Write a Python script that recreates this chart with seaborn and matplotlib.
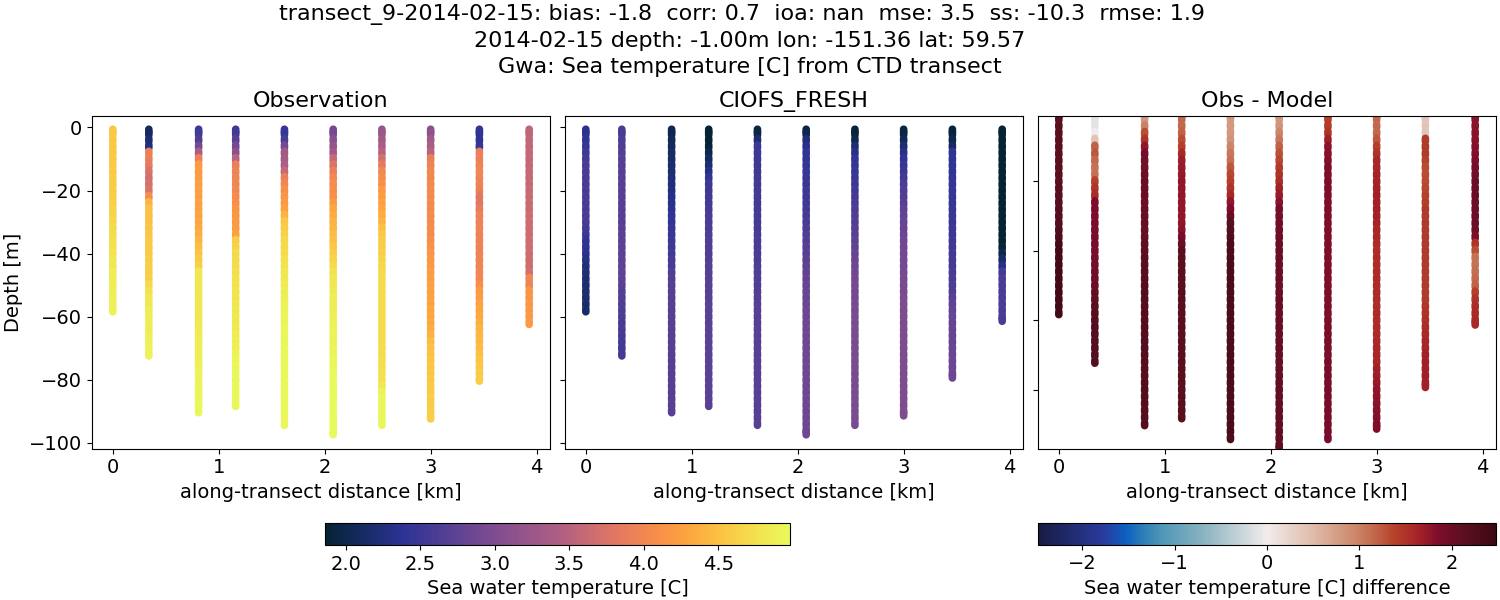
"""Sea temperature transect: observation, model and difference panels."""
import matplotlib
matplotlib.use("Agg")
import matplotlib.pyplot as plt
import numpy as np
import pandas as pd
import seaborn as sns
from matplotlib.cm import ScalarMappable
from matplotlib.colors import LinearSegmentedColormap, Normalize
from matplotlib.path import Path

DISTANCE_KM = [0.0, 0.34, 0.81, 1.16, 1.62, 2.08, 2.54, 3.0, 3.46, 3.93]

# sampled depths of a cast (m); the last sample of each cast is replaced by its bottom
DEPTH_GRID = [1, 2, 4, 6, 8, 10, 12, 14, 16, 18, 20, 22, 24, 26, 28, 30, 32, 34, 36, 38,
              40, 42, 44, 46, 48, 50, 52, 54, 56, 58, 60, 62, 64, 66, 68, 70, 72, 74, 76, 78,
              80, 82, 84, 86, 88, 90, 92, 94, 96]
OBS_BOTTOM = [58, 72, 90, 88, 94, 97, 94, 92, 80, 62]
MODEL_BOTTOM = [58, 72, 90, 88, 94, 97, 94, 91, 79, 61]

OBS_TEMP = [
    [4.55, 4.55, 4.55, 4.55, 4.55, 4.56, 4.56, 4.57, 4.58, 4.58, 4.6, 4.6, 4.62, 4.64, 4.66,
     4.68, 4.7, 4.72, 4.74, 4.76, 4.78, 4.8, 4.82, 4.85, 4.86, 4.87, 4.88, 4.88, 4.89, 4.9],
    [2.1, 2.1, 2.2, 2.25, 3.9, 3.9, 3.85, 3.75, 3.7, 3.72, 3.75, 4.05, 4.4, 4.5, 4.5,
     4.5, 4.52, 4.54, 4.55, 4.56, 4.57, 4.58, 4.6, 4.6, 4.62, 4.7, 4.75, 4.8, 4.82, 4.84,
     4.85, 4.86, 4.87, 4.88, 4.89, 4.9, 4.9],
    [2.5, 2.55, 2.65, 2.9, 3.4, 3.9, 4.2, 4.22, 4.23, 4.24, 4.25, 4.26, 4.27, 4.28, 4.29,
     4.3, 4.33, 4.37, 4.42, 4.47, 4.52, 4.57, 4.62, 4.8, 4.8, 4.8, 4.8, 4.8, 4.81, 4.81,
     4.82, 4.82, 4.83, 4.84, 4.85, 4.86, 4.87, 4.88, 4.89, 4.9, 4.9, 4.91, 4.92, 4.93, 4.94, 4.95],
    [2.5, 2.55, 2.7, 2.9, 3.1, 3.5, 3.9, 3.95, 3.97, 3.98, 4.0, 4.05, 4.1, 4.14, 4.17,
     4.2, 4.22, 4.25, 4.6, 4.65, 4.7, 4.71, 4.72, 4.73, 4.75, 4.76, 4.77, 4.78, 4.79, 4.8,
     4.81, 4.82, 4.83, 4.84, 4.86, 4.88, 4.9, 4.92, 4.94, 4.95, 4.95, 4.95, 4.95, 4.95, 4.95],
    [2.45, 2.45, 2.6, 2.9, 3.3, 3.35, 3.4, 3.6, 3.9, 4.0, 4.1, 4.15, 4.2, 4.25, 4.4,
     4.55, 4.6, 4.65, 4.68, 4.7, 4.72, 4.75, 4.78, 4.8, 4.82, 4.84, 4.86, 4.88, 4.9, 4.91,
     4.92, 4.93, 4.94, 4.94, 4.95, 4.95, 4.95, 4.95, 4.95, 4.95, 4.95, 4.95, 4.95, 4.95, 4.95,
     4.95, 4.95, 4.95],
    [2.9, 2.9, 3.1, 3.2, 3.3, 3.6, 3.75, 3.9, 4.0, 4.05, 4.07, 4.1, 4.2, 4.3, 4.35,
     4.4, 4.43, 4.47, 4.5, 4.55, 4.6, 4.65, 4.7, 4.75, 4.8, 4.81, 4.83, 4.85, 4.86, 4.87,
     4.88, 4.89, 4.9, 4.9, 4.91, 4.92, 4.93, 4.94, 4.95, 4.96, 4.97, 4.97, 4.97, 4.97, 4.97,
     4.97, 4.97, 4.97, 4.97, 4.97],
    [3.2, 3.25, 3.3, 3.4, 3.5, 3.7, 3.85, 4.0, 4.05, 4.1, 4.2, 4.22, 4.25, 4.3, 4.35,
     4.4, 4.5, 4.55, 4.58, 4.6, 4.62, 4.65, 4.67, 4.68, 4.7, 4.7, 4.7, 4.7, 4.7, 4.7,
     4.7, 4.71, 4.71, 4.71, 4.72, 4.72, 4.72, 4.73, 4.74, 4.75, 4.75, 4.8, 4.9, 4.95, 4.95,
     4.95, 4.95, 4.95],
    [3.1, 3.15, 3.3, 3.4, 3.5, 3.9, 3.95, 4.0, 4.01, 4.02, 4.03, 4.03, 4.04, 4.04, 4.05,
     4.05, 4.06, 4.07, 4.1, 4.12, 4.15, 4.17, 4.19, 4.21, 4.23, 4.25, 4.26, 4.27, 4.28, 4.29,
     4.3, 4.32, 4.35, 4.4, 4.45, 4.5, 4.51, 4.52, 4.53, 4.54, 4.55, 4.56, 4.57, 4.58, 4.59,
     4.6, 4.6],
    [2.4, 2.4, 2.4, 2.45, 3.9, 3.92, 3.95, 4.0, 3.98, 3.95, 3.9, 3.8, 3.82, 3.85, 3.95,
     3.95, 3.95, 3.95, 3.95, 3.95, 3.96, 3.97, 3.98, 3.99, 4.0, 4.1, 4.2, 4.23, 4.27, 4.3,
     4.33, 4.37, 4.4, 4.42, 4.44, 4.46, 4.5, 4.52, 4.55, 4.58, 4.6],
    [3.55, 3.55, 3.56, 3.57, 3.58, 3.58, 3.59, 3.6, 3.6, 3.6, 3.62, 3.62, 3.63, 3.63, 3.64,
     3.65, 3.65, 3.65, 3.65, 3.65, 3.65, 3.65, 3.65, 3.7, 4.0, 3.95, 4.15, 4.15, 4.17, 4.18,
     4.19, 4.2],
]

MODEL_TEMP = [
    [2.35, 2.35, 2.4, 2.45, 2.5, 2.55, 2.58, 2.6, 2.6, 2.6, 2.6, 2.6, 2.6, 2.6, 2.58,
     2.58, 2.55, 2.5, 2.4, 2.38, 2.35, 2.3, 2.25, 2.22, 2.2, 2.2, 2.18, 2.17, 2.16, 2.15],
    [2.6, 2.6, 2.62, 2.64, 2.66, 2.68, 2.7, 2.7, 2.7, 2.7, 2.7, 2.7, 2.7, 2.7, 2.7,
     2.7, 2.72, 2.72, 2.72, 2.73, 2.73, 2.74, 2.74, 2.75, 2.75, 2.72, 2.7, 2.67, 2.65, 2.63,
     2.62, 2.6, 2.58, 2.57, 2.56, 2.55, 2.55],
    [2.0, 2.0, 2.05, 2.1, 2.12, 2.14, 2.16, 2.2, 2.22, 2.25, 2.27, 2.3, 2.33, 2.36, 2.4,
     2.42, 2.44, 2.47, 2.5, 2.52, 2.55, 2.57, 2.6, 2.63, 2.65, 2.67, 2.68, 2.69, 2.7, 2.7,
     2.7, 2.7, 2.7, 2.7, 2.7, 2.7, 2.7, 2.7, 2.7, 2.7, 2.7, 2.7, 2.7, 2.7, 2.7, 2.7],
    [1.87, 1.87, 1.87, 1.87, 2.0, 2.1, 2.2, 2.3, 2.4, 2.5, 2.52, 2.54, 2.55, 2.57, 2.58,
     2.6, 2.61, 2.62, 2.63, 2.64, 2.65, 2.66, 2.68, 2.69, 2.7, 2.7, 2.7, 2.7, 2.71, 2.71,
     2.71, 2.72, 2.72, 2.72, 2.72, 2.72, 2.72, 2.72, 2.72, 2.72, 2.72, 2.72, 2.72, 2.72, 2.72],
    [1.95, 1.95, 2.2, 2.5, 2.5, 2.51, 2.52, 2.53, 2.54, 2.54, 2.55, 2.55, 2.55, 2.56, 2.56,
     2.57, 2.57, 2.58, 2.58, 2.59, 2.6, 2.61, 2.62, 2.63, 2.64, 2.65, 2.66, 2.67, 2.68, 2.69,
     2.7, 2.7, 2.7, 2.7, 2.7, 2.7, 2.7, 2.7, 2.7, 2.7, 2.7, 2.7, 2.7, 2.7, 2.7,
     2.7, 2.7, 2.7],
    [1.95, 2.0, 2.25, 2.32, 2.4, 2.42, 2.44, 2.46, 2.48, 2.49, 2.5, 2.51, 2.52, 2.54, 2.57,
     2.6, 2.62, 2.64, 2.66, 2.68, 2.7, 2.72, 2.74, 2.76, 2.78, 2.8, 2.81, 2.82, 2.83, 2.84,
     2.85, 2.85, 2.85, 2.85, 2.85, 2.85, 2.85, 2.85, 2.85, 2.85, 2.85, 2.85, 2.85, 2.85, 2.85,
     2.85, 2.85, 2.85, 2.85, 2.85],
    [1.9, 1.9, 2.0, 2.2, 2.3, 2.4, 2.43, 2.46, 2.49, 2.52, 2.55, 2.57, 2.6, 2.62, 2.64,
     2.66, 2.68, 2.7, 2.73, 2.76, 2.79, 2.82, 2.85, 2.87, 2.89, 2.9, 2.91, 2.92, 2.93, 2.94,
     2.95, 2.95, 2.95, 2.95, 2.95, 2.95, 2.95, 2.95, 2.95, 2.95, 2.95, 2.95, 2.95, 2.95, 2.95,
     2.95, 2.95, 2.95],
    [1.95, 1.95, 2.05, 2.2, 2.3, 2.4, 2.45, 2.5, 2.55, 2.6, 2.63, 2.66, 2.7, 2.74, 2.78,
     2.8, 2.82, 2.84, 2.86, 2.88, 2.9, 2.91, 2.92, 2.93, 2.94, 2.95, 2.96, 2.97, 2.98, 2.99,
     3.0, 3.0, 3.0, 3.0, 3.0, 3.0, 3.0, 3.0, 3.0, 3.0, 3.0, 3.0, 3.0, 3.0, 3.0,
     3.0, 3.0],
    [1.9, 1.9, 2.0, 2.1, 2.4, 2.4, 2.41, 2.42, 2.43, 2.44, 2.45, 2.46, 2.46, 2.47, 2.48,
     2.49, 2.5, 2.51, 2.52, 2.53, 2.55, 2.56, 2.57, 2.58, 2.6, 2.62, 2.65, 2.7, 2.74, 2.78,
     2.8, 2.81, 2.81, 2.82, 2.82, 2.83, 2.83, 2.84, 2.84, 2.85, 2.85],
    [1.87, 1.87, 1.87, 1.87, 1.87, 1.87, 1.87, 1.87, 1.87, 1.87, 1.87, 1.87, 1.87, 1.87, 1.87,
     1.87, 1.87, 1.87, 1.87, 1.9, 2.0, 2.15, 2.3, 2.55, 2.58, 2.6, 2.6, 2.6, 2.6, 2.6,
     2.6, 2.6],
]

DIFF_TEMP = [
    [2.15, 2.15, 2.15, 2.15, 2.15, 2.15, 2.15, 2.15, 2.15, 2.15, 2.15, 2.16, 2.17, 2.18, 2.19,
     2.2, 2.22, 2.25, 2.3, 2.35, 2.4, 2.4, 2.4, 2.4, 2.4, 2.4, 2.4, 2.4, 2.4, 2.4],
    [-0.1, -0.1, -0.1, 0.0, 0.4, 1.2, 1.25, 1.15, 1.1, 1.1, 1.4, 1.5, 1.55, 1.85, 1.85,
     1.85, 1.87, 1.88, 1.89, 1.9, 1.9, 1.92, 1.94, 1.95, 1.95, 2.0, 2.05, 2.1, 2.15, 2.18,
     2.2, 2.2, 2.2, 2.2, 2.2, 2.2, 2.2],
    [0.8, 0.8, 1.0, 1.3, 1.5, 1.75, 1.9, 1.95, 1.95, 2.0, 2.0, 2.0, 2.0, 2.0, 2.0,
     2.0, 2.02, 2.04, 2.06, 2.08, 2.1, 2.12, 2.14, 2.16, 2.18, 2.2, 2.2, 2.2, 2.2, 2.2,
     2.2, 2.2, 2.2, 2.2, 2.2, 2.2, 2.2, 2.2, 2.2, 2.2, 2.2, 2.2, 2.2, 2.2, 2.2, 2.2],
    [1.15, 1.15, 1.15, 1.2, 1.3, 1.4, 1.6, 1.7, 1.72, 1.74, 1.75, 1.75, 1.75, 1.75, 1.75,
     1.75, 1.75, 1.8, 1.9, 2.0, 2.15, 2.15, 2.15, 2.15, 2.15, 2.15, 2.15, 2.15, 2.15, 2.15,
     2.15, 2.15, 2.15, 2.15, 2.15, 2.15, 2.15, 2.15, 2.15, 2.15, 2.15, 2.15, 2.15, 2.15, 2.15],
    [0.8, 0.8, 0.8, 0.8, 0.85, 0.95, 1.05, 1.1, 1.25, 1.35, 1.4, 1.5, 1.6, 1.75, 1.85,
     2.0, 2.15, 2.2, 2.25, 2.28, 2.3, 2.3, 2.3, 2.3, 2.3, 2.3, 2.3, 2.3, 2.3, 2.3,
     2.3, 2.3, 2.3, 2.3, 2.3, 2.3, 2.3, 2.3, 2.3, 2.3, 2.3, 2.3, 2.3, 2.3, 2.3,
     2.3, 2.3, 2.3],
    [0.8, 0.8, 0.85, 0.95, 1.05, 1.2, 1.28, 1.35, 1.45, 1.5, 1.55, 1.65, 1.72, 1.8, 1.9,
     1.93, 1.95, 1.97, 1.98, 2.0, 2.0, 2.0, 2.0, 2.0, 2.0, 2.0, 2.0, 2.02, 2.02, 2.03,
     2.04, 2.04, 2.05, 2.05, 2.05, 2.06, 2.06, 2.07, 2.07, 2.08, 2.08, 2.08, 2.09, 2.09, 2.1,
     2.1, 2.1, 2.1, 2.1, 2.1],
    [1.4, 1.4, 1.45, 1.5, 1.65, 1.8, 1.82, 1.84, 1.85, 1.85, 1.85, 1.85, 1.85, 1.85, 1.85,
     1.85, 1.85, 1.85, 1.85, 1.85, 1.85, 1.85, 1.85, 1.85, 1.85, 1.85, 1.86, 1.86, 1.87, 1.87,
     1.87, 1.88, 1.88, 1.88, 1.89, 1.89, 1.9, 1.9, 1.9, 1.9, 1.9, 1.9, 1.9, 1.9, 1.9,
     1.9, 1.9, 1.9],
    [1.15, 1.15, 1.15, 1.15, 1.25, 1.4, 1.5, 1.6, 1.62, 1.63, 1.64, 1.65, 1.65, 1.65, 1.65,
     1.65, 1.63, 1.62, 1.6, 1.58, 1.56, 1.55, 1.55, 1.55, 1.55, 1.55, 1.55, 1.55, 1.55, 1.55,
     1.55, 1.56, 1.57, 1.58, 1.59, 1.6, 1.62, 1.65, 1.68, 1.72, 1.75, 1.78, 1.8, 1.82, 1.84,
     1.85, 1.85],
    [0.4, 0.4, 0.4, 0.4, 1.45, 1.45, 1.45, 1.38, 1.32, 1.3, 1.32, 1.35, 1.38, 1.4, 1.45,
     1.45, 1.45, 1.45, 1.45, 1.45, 1.45, 1.45, 1.45, 1.45, 1.45, 1.45, 1.45, 1.45, 1.48, 1.5,
     1.52, 1.55, 1.58, 1.6, 1.62, 1.65, 1.65, 1.65, 1.65, 1.65, 1.65],
    [1.8, 1.8, 1.8, 1.8, 1.8, 1.82, 1.84, 1.86, 1.9, 1.95, 2.0, 2.0, 2.0, 2.0, 2.0,
     2.0, 2.0, 2.0, 1.85, 1.5, 1.3, 1.1, 1.1, 1.12, 1.15, 1.2, 1.4, 1.5, 1.55, 1.58,
     1.6, 1.6],
]

THERMAL_STOPS = [(0.0, "#042333"), (1 / 6, "#2c3395"), (2 / 6, "#744992"), (0.51, "#b15f82"),
                 (0.635, "#e57a60"), (0.72, "#f98f48"), (0.79, "#fda83f"), (0.865, "#fbc845"),
                 (0.936, "#f2e44f"), (1.0, "#e8fa5b")]
BALANCE_STOPS = [(0.0, "#181c43"), (0.14, "#2a3a9c"), (0.19, "#0b5fc0"), (0.225, "#2a7cb8"),
                 (0.27, "#4f97b8"), (0.36, "#8ab3bf"), (0.5, "#f1eceb"), (0.6, "#e0bcab"),
                 (0.7, "#cb8365"), (0.78, "#b5422a"), (0.83, "#a62428"), (0.875, "#7e0d2c"),
                 (0.93, "#5c0f20"), (1.0, "#3c0912")]
TEMP_RANGE = (1.86, 4.98)
DIFF_RANGE = (-2.48, 2.48)


def stadium_marker(half_width=3.8, half_height=5.2):
    """Slightly tall round-ended marker, so that the 2 m samples join into a smooth bar."""
    theta = np.linspace(0, np.pi, 17)
    flat = half_height - half_width
    xs = half_width * np.cos(theta)
    ys = flat + half_width * np.sin(theta)
    verts = np.column_stack([np.r_[xs, -xs], np.r_[ys, -ys]])
    return Path(np.vstack([verts, verts[:1]]), closed=True)


def cast_table(values, bottoms):
    """Long table of one panel, one row per sample, shallow samples first."""
    rows = []
    for dist, vals, bottom in zip(DISTANCE_KM, values, bottoms):
        depths = DEPTH_GRID[: len(vals) - 1] + [bottom]
        for depth, val in zip(depths, vals):
            rows.append({"distance": dist, "depth": -depth, "value": val})
    return pd.DataFrame(rows)


def draw_panel(ax, df, cmap, norm, title):
    sns.scatterplot(data=df, x="distance", y="depth", hue="value", palette=cmap, hue_norm=norm,
                    marker=stadium_marker(), s=56, linewidth=0, legend=False, ax=ax)
    ax.set_title(title, fontsize=16)
    ax.set_xlabel("along-transect distance [km]", fontsize=14)
    ax.set_ylabel("")
    ax.set_xticks([0, 1, 2, 3, 4])
    ax.tick_params(labelsize=14)


sns.set_style("ticks", {"axes.edgecolor": "black", "xtick.color": "black", "ytick.color": "black",
                        "text.color": "black", "axes.labelcolor": "black"})
plt.rcParams["font.family"] = ["DejaVu Sans"]

thermal = LinearSegmentedColormap.from_list("thermal", THERMAL_STOPS)
balance = LinearSegmentedColormap.from_list("balance", BALANCE_STOPS)
temp_norm = Normalize(*TEMP_RANGE)
diff_norm = Normalize(*DIFF_RANGE)

W, H = 1500, 600
fig = plt.figure(figsize=(W / 100, H / 100), dpi=100)


def add_axes_px(left, top, right, bottom):
    return fig.add_axes([left / W, 1 - bottom / H, (right - left) / W, (bottom - top) / H])


ax_obs = add_axes_px(92, 115.5, 550, 448.5)
ax_model = add_axes_px(565, 115.5, 1023, 448.5)
ax_diff = add_axes_px(1038, 115.5, 1496, 448.5)

draw_panel(ax_obs, cast_table(OBS_TEMP, OBS_BOTTOM), thermal, temp_norm, "Observation")
draw_panel(ax_model, cast_table(MODEL_TEMP, MODEL_BOTTOM), thermal, temp_norm, "CIOFS_FRESH")
draw_panel(ax_diff, cast_table(DIFF_TEMP, MODEL_BOTTOM), balance, diff_norm, "Obs - Model")

ax_obs.set_ylabel("Depth [m]", fontsize=14)
depth_ticks = [0, -20, -40, -60, -80, -100]
ax_obs.set_yticks(depth_ticks)
ax_model.set_yticks(depth_ticks)
ax_model.set_yticklabels([])
ax_diff.set_ylim(-97, -1)
ax_diff.set_yticks([-20, -40, -60, -80])
ax_diff.set_yticklabels([])

cax_temp = add_axes_px(325, 522.5, 790, 545)
cbar = fig.colorbar(ScalarMappable(norm=temp_norm, cmap=thermal), cax=cax_temp, orientation="horizontal")
cbar.set_ticks([2.0, 2.5, 3.0, 3.5, 4.0, 4.5])
cbar.ax.tick_params(labelsize=14)
cbar.set_label("Sea water temperature [C]", fontsize=14)

cax_diff = add_axes_px(1038, 522.5, 1496, 544.5)
cbar = fig.colorbar(ScalarMappable(norm=diff_norm, cmap=balance), cax=cax_diff, orientation="horizontal")
cbar.set_ticks([-2, -1, 0, 1, 2])
cbar.ax.tick_params(labelsize=14)
cbar.set_label("Sea water temperature [C] difference", fontsize=14)

title_lines = ["transect_9-2014-02-15: bias: -1.8  corr: 0.7  ioa: nan  mse: 3.5  ss: -10.3  rmse: 1.9",
               "2014-02-15 depth: -1.00m lon: -151.36 lat: 59.57",
               "Gwa: Sea temperature [C] from CTD transect"]
for line, (x_px, y_px) in zip(title_lines, [(742, 20), (749.5, 47), (749.5, 73)]):
    fig.text(x_px / W, 1 - y_px / H, line, fontsize=16, ha="center", va="baseline")

fig.savefig("out.png", dpi=100)
